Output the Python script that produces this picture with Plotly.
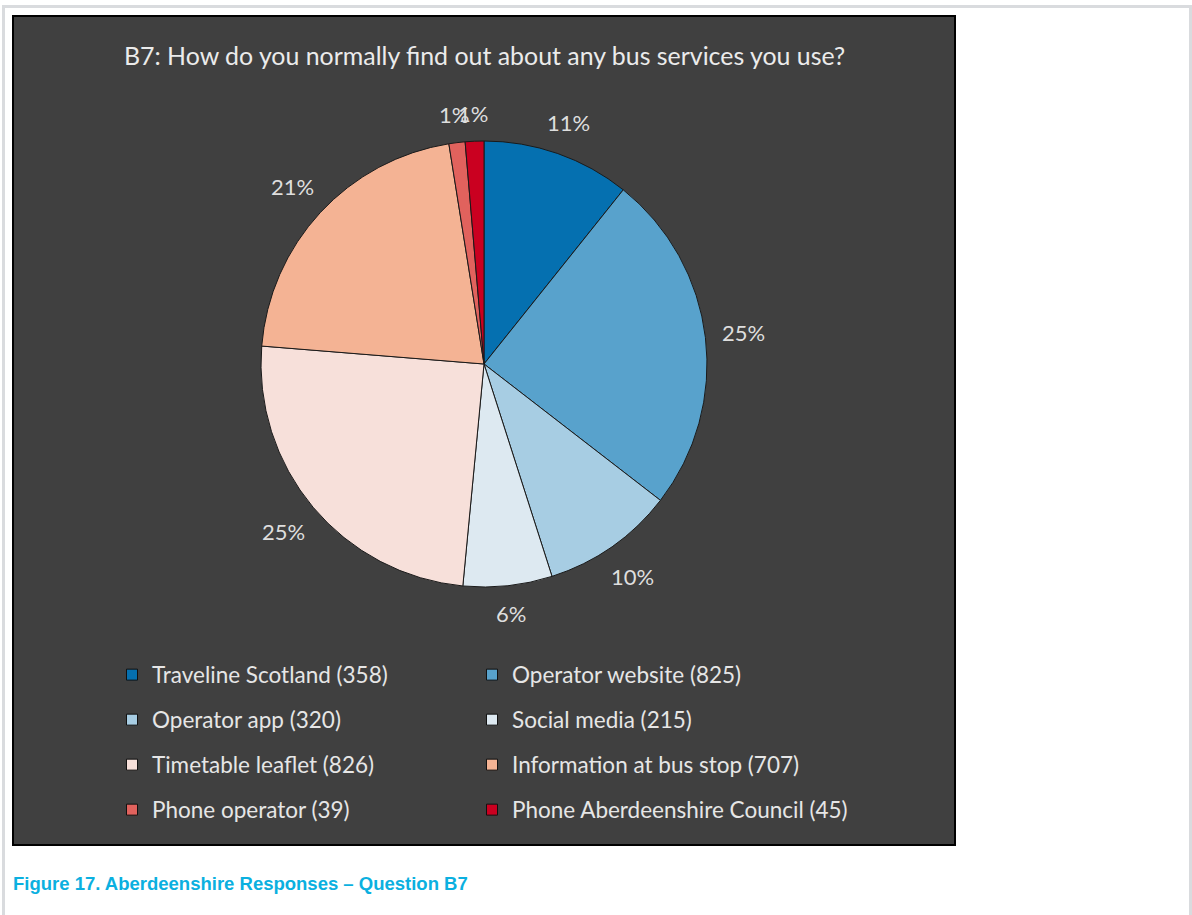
import math
import plotly.graph_objects as go

# Survey answers for question B7 (number of respondents per source)
categories = [
    "Traveline Scotland",
    "Operator website",
    "Operator app",
    "Social media",
    "Timetable leaflet",
    "Information at bus stop",
    "Phone operator",
    "Phone Aberdeenshire Council",
]
responses = [358, 825, 320, 215, 826, 707, 39, 45]
slice_colors = [
    "#0570b0", "#58a2cc", "#a7cde3", "#dde9f1",
    "#f7e0da", "#f4b394", "#e1625d", "#ca0020",
]

TITLE = "B7: How do you normally find out about any bus services you use?"
CAPTION = "Figure 17. Aberdeenshire Responses \u2013 Question B7"

W, H = 1192, 915
FONT = "Lato, Carlito, Calibri, sans-serif"

# pie geometry in pixels (figure has zero margins, so paper = pixels / size)
CX, CY, R = 484, 364, 223
LABEL_SIZE = 22


def px(x):
    return x / W


def py(y):
    return 1 - y / H


fig = go.Figure()

fig.add_trace(go.Pie(
    labels=categories,
    values=responses,
    sort=False,
    direction="clockwise",
    rotation=0,
    marker=dict(colors=slice_colors, line=dict(color="#1a1a1a", width=1)),
    textinfo="none",
    hoverinfo="label+value+percent",
    showlegend=False,
    domain=dict(x=[px(CX - R), px(CX + R)], y=[py(CY + R), py(CY - R)]),
))

# legend swatches, two columns of four
for i, (name, col) in enumerate(zip(categories, slice_colors)):
    fig.add_trace(go.Scatter(
        x=[None], y=[None], mode="markers", name=f"{name} ({responses[i]})",
        marker=dict(symbol="square", size=11, color=col,
                    line=dict(color="#111111", width=1)),
        legend="legend" if i % 2 == 0 else "legend2",
        legendgroup=f"g{i}",
        hoverinfo="skip",
    ))

# percentage labels placed just outside each slice
total = sum(responses)
annotations = []
cum = 0
for v in responses:
    frac_mid = (cum + v / 2) / total
    cum += v
    theta = 2 * math.pi * frac_mid
    label = f"{round(100 * v / total)}%"
    w_lab = 0.55 * LABEL_SIZE * len(label)
    h_lab = 16
    dist = R + 19 + (w_lab / 2) * abs(math.sin(theta)) + (h_lab / 2) * abs(math.cos(theta))
    lx = CX + dist * math.sin(theta)
    ly = CY - dist * math.cos(theta)
    annotations.append(dict(
        x=px(lx), y=py(ly), xref="paper", yref="paper", text=label,
        showarrow=False, xanchor="center", yanchor="middle",
        font=dict(family=FONT, size=LABEL_SIZE, color="#dedede"),
    ))

annotations.append(dict(
    x=px(484), y=py(55), xref="paper", yref="paper", text=TITLE,
    showarrow=False, xanchor="center", yanchor="middle",
    font=dict(family=FONT, size=24.9, color="#ebebeb"),
))
annotations.append(dict(
    x=px(11), y=py(883), xref="paper", yref="paper", text=f"<b>{CAPTION}</b>",
    showarrow=False, xanchor="left", yanchor="middle",
    font=dict(family="Liberation Sans, Arial, sans-serif", size=18.5, color="#0bb0e0"),
))

shapes = [
    # page frame
    dict(type="rect", xref="paper", yref="paper", x0=px(3.5), x1=px(1190.5),
         y0=py(925), y1=py(6.5), line=dict(color="#d9dbde", width=3),
         fillcolor="rgba(0,0,0,0)", layer="below"),
    # dark chart area
    dict(type="rect", xref="paper", yref="paper", x0=px(13), x1=px(955),
         y0=py(845), y1=py(16), line=dict(color="#000000", width=2),
         fillcolor="#404040", layer="below"),
]

legend_common = dict(
    orientation="v", traceorder="grouped", tracegroupgap=12.75,
    font=dict(family=FONT, size=22.5, color="#e6e6e6"),
    bgcolor="rgba(0,0,0,0)", borderwidth=0,
    xanchor="left", yanchor="top", itemclick=False, itemdoubleclick=False,
)

fig.update_layout(
    width=W, height=H,
    margin=dict(l=0, r=0, t=0, b=0),
    paper_bgcolor="#ffffff",
    plot_bgcolor="rgba(0,0,0,0)",
    xaxis=dict(visible=False),
    yaxis=dict(visible=False),
    shapes=shapes,
    annotations=annotations,
    legend=dict(x=px(112), y=py(653.5), **legend_common),
    legend2=dict(x=px(472), y=py(653.5), **legend_common),
)

fig.write_html("out.html")
